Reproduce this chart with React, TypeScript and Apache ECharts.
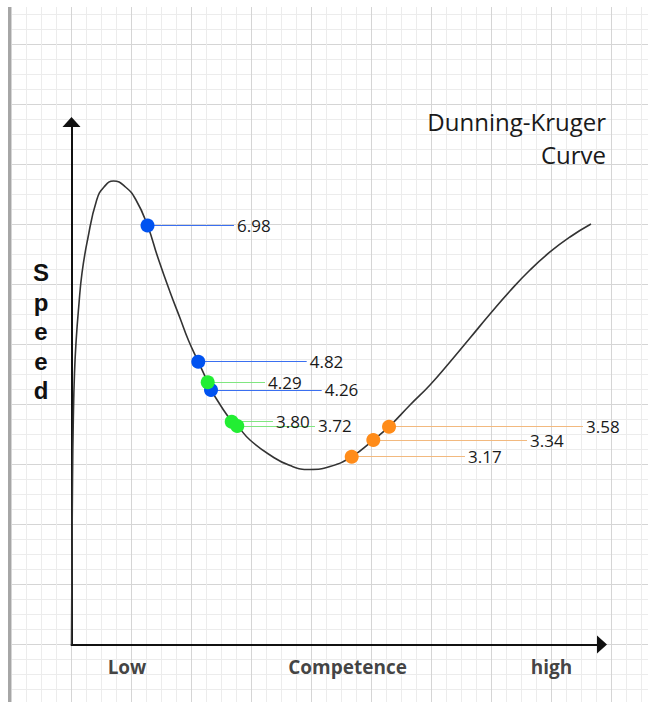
import React, { useEffect, useRef } from "react";
import * as echarts from "echarts";

// Curve: competence (x) vs speed (y)
const curve: [number, number][] = [
  [0, 0], [0.008, 1.408], [0.017, 2.742], [0.03, 3.742], [0.05, 4.525], [0.078, 5.075],
  [0.12, 5.625], [0.175, 6.192], [0.267, 6.742], [0.42, 7.408], [0.542, 7.625], [0.7, 7.725],
  [0.9, 7.625], [1.075, 7.408], [1.267, 6.983], [1.442, 6.442], [1.642, 5.875], [1.808, 5.442],
  [1.947, 5.075], [2.113, 4.713], [2.27, 4.37], [2.325, 4.242], [2.67, 3.713], [2.763, 3.642],
  [2.975, 3.408], [3.308, 3.158], [3.642, 2.983], [3.975, 2.917], [4.308, 2.967], [4.67, 3.13],
  [5.03, 3.408], [5.292, 3.63], [5.642, 3.992], [5.975, 4.325], [6.308, 4.708], [6.642, 5.108],
  [6.975, 5.508], [7.308, 5.892], [7.642, 6.242], [7.975, 6.542], [8.308, 6.792], [8.658, 7.008],
];

const blueCompetence = [1.267, 2.113, 2.325];
const bluePosition = [6.983, 4.713, 4.242];
const blueValues = [6.98, 4.82, 4.26];
const blueLabelAt = [2.708, 3.92, 4.17];

const greenCompetence = [2.27, 2.67, 2.763];
const greenPosition = [4.37, 3.713, 3.642];
const greenValues = [4.29, 3.8, 3.72];
const greenLabelAt = [3.225, 3.358, 4.058];

const orangeCompetence = [4.67, 5.03, 5.292];
const orangePosition = [3.13, 3.408, 3.63];
const orangeValues = [3.17, 3.34, 3.58];
const orangeLabelAt = [6.558, 7.592, 8.525];

const xLabels = ["Low", "Competence", "high"];
const xLabelAt = [0.925, 4.6, 8.0];

const yTitleLetters = ["S", "p", "e", "e", "d"];

const FONT = "'Open Sans', 'Noto Sans', sans-serif";
const BOLD_FONT = "'Liberation Sans', Arial, sans-serif";

function pointSeries(
  name: string,
  xs: number[],
  ys: number[],
  values: number[],
  labelAt: number[],
  color: string,
  lineColor: string
) {
  return {
    name,
    type: "scatter",
    xAxisIndex: 0,
    yAxisIndex: 0,
    symbolSize: 14,
    itemStyle: { color, opacity: 1 },
    data: xs.map((x, i) => [x, ys[i]]),
    z: 3,
    markLine: {
      silent: true,
      symbol: ["none", "none"],
      z: 1,
      animation: false,
      lineStyle: { color: lineColor, width: 1, type: "solid", opacity: 1 },
      label: {
        show: true,
        position: "end",
        distance: 3,
        color: "#1a1a1a",
        fontFamily: FONT,
        fontSize: 17,
      },
      emphasis: { disabled: true },
      data: xs.map((x, i) => [
        { coord: [x, ys[i]], lineStyle: { color: lineColor } },
        { coord: [labelAt[i], ys[i]], label: { formatter: values[i].toFixed(2) } },
      ]),
    },
  };
}

export default function App() {
  const ref = useRef<HTMLDivElement>(null);
  useEffect(() => {
    if (!ref.current) return;
    const chart = echarts.init(ref.current, undefined, { renderer: "svg" });
    const bgAxis = (min: number, max: number) => ({
      type: "value",
      min,
      max,
      interval: 1,
      axisLine: { show: false },
      axisTick: { show: false },
      axisLabel: { show: false },
      splitLine: { show: true, lineStyle: { color: "#d5d5d5", width: 1 } },
      minorTick: { show: false, splitNumber: 4 },
      minorSplitLine: { show: true, lineStyle: { color: "#ececec", width: 1 } },
    });
    const mainAxis = (gridIndex: number) => ({
      type: "value",
      gridIndex,
      min: 0,
      max: 1,
      axisLine: {
        show: true,
        symbol: ["none", "triangle"],
        symbolSize: [18, 10],
        lineStyle: { color: "#111111", width: 2 },
      },
      axisTick: { show: false },
      axisLabel: { show: false },
      splitLine: { show: false },
    });
    chart.setOption({
      animation: false,
      backgroundColor: "#ffffff",
      grid: [
        { left: 11.5, top: -15.5, width: 660, height: 720, outerBoundsMode: "none", containLabel: false },
        { left: 71.5, top: 122, width: 530.5, height: 522.5, outerBoundsMode: "none", containLabel: false },
      ],
      xAxis: [{ ...bgAxis(-1, 10), gridIndex: 0 }, mainAxis(1)],
      yAxis: [{ ...bgAxis(-1, 11), gridIndex: 0 }, mainAxis(1)],
      graphic: [
        { type: "rect", z: 100, shape: { x: 0, y: 0, width: 648, height: 7 }, style: { fill: "#ffffff" } },
        { type: "rect", z: 100, shape: { x: 0, y: 0, width: 8, height: 702 }, style: { fill: "#ffffff" } },
        { type: "rect", z: 100, shape: { x: 8, y: 7, width: 3, height: 695 }, style: { fill: "#a6a6a6" } },
        {
          type: "text", z: 100, x: 606, y: 121.5,
          style: { text: "Dunning-Kruger", fill: "#1a1a1a", font: `24px ${FONT}`, align: "right", verticalAlign: "middle" },
        },
        {
          type: "text", z: 100, x: 606, y: 154,
          style: { text: "Curve", fill: "#1a1a1a", font: `24px ${FONT}`, align: "right", verticalAlign: "middle" },
        },
        ...yTitleLetters.map((ch, i) => ({
          type: "text", z: 100, x: 41, y: 272.5 + i * 29.5,
          style: { text: ch, fill: "#111111", font: `bold 24px ${BOLD_FONT}`, align: "center", verticalAlign: "middle" },
        })),
      ],
      series: [
        {
          type: "line",
          xAxisIndex: 0,
          yAxisIndex: 0,
          data: curve,
          smooth: 0.5,
          showSymbol: false,
          symbol: "none",
          lineStyle: { color: "#333333", width: 1.6 },
          z: 2,
          silent: true,
        },
        pointSeries("blue", blueCompetence, bluePosition, blueValues, blueLabelAt, "#0052f0", "#3a6ff0"),
        pointSeries("green", greenCompetence, greenPosition, greenValues, greenLabelAt, "#22ee33", "#80e680"),
        pointSeries("orange", orangeCompetence, orangePosition, orangeValues, orangeLabelAt, "#ff8c1a", "#f2b97f"),
        {
          type: "scatter",
          xAxisIndex: 0,
          yAxisIndex: 0,
          symbolSize: 0,
          silent: true,
          data: xLabels.map((t, i) => ({ name: t, value: [xLabelAt[i], -0.367] })),
          label: {
            show: true,
            position: "inside",
            formatter: "{b}",
            color: "#111111",
            fontFamily: FONT,
            fontWeight: "bold",
            fontSize: 19,
          },
        },
      ],
    });
    return () => chart.dispose();
  }, []);
  return (
    <div
      ref={ref}
      style={{ position: "absolute", left: 0, top: 0, width: 648, height: 702 }}
    />
  );
}
